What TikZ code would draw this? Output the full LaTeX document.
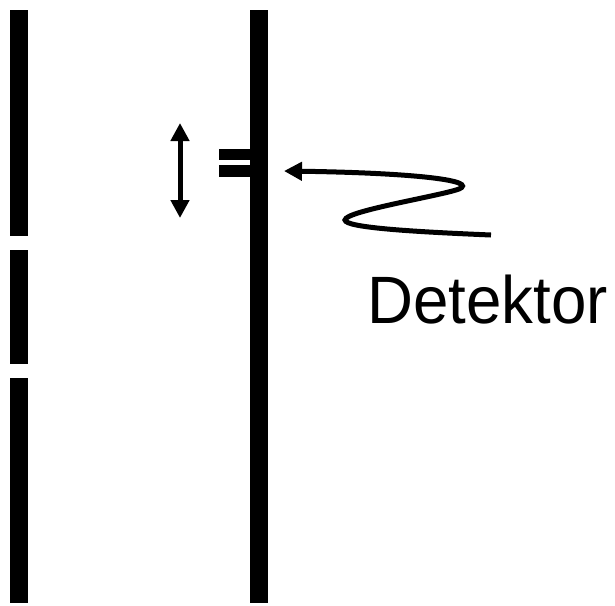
\documentclass[tikz,border=0pt]{standalone}
\usepackage{fontspec}
\setmainfont{Liberation Sans}
\usetikzlibrary{arrows.meta}
\begin{document}
\begin{tikzpicture}[x=1pt,y=-1pt,
  wall/.style={fill=black,draw=none},
  thick arrow/.style={line width=5pt},
  tip/.style={Triangle[length=18pt,width=18pt]}]
\useasboundingbox (0,0) rectangle (615,605);
% left wall with two slits
\fill[wall] (10,10) rectangle (28,236);
\fill[wall] (10,250) rectangle (28,364);
\fill[wall] (10,378) rectangle (28,603);
% screen
\fill[wall] (250,10) rectangle (268,603);
% detector plates
\fill[wall] (219,149) rectangle (251,160);
\fill[wall] (219,165) rectangle (251,177);
% double arrow
\coordinate (up) at (180,123);
\coordinate (down) at (180,218);
\draw[thick arrow,{Triangle[length=18pt,width=18pt]}-{Triangle[length=18pt,width=18pt]}] (up) -- (down);
% wavy arrow
\coordinate (wstart) at (491,235);
\coordinate (wend) at (284,171);
\draw[thick arrow,-{Triangle[length=18pt,width=18pt]}] (wstart) .. controls (420,232) and (345,228) .. (345,220) .. controls (345,211) and (440,196) .. (459,189) .. controls (478,181) and (420,173) .. (wend);
% label
\node[anchor=base west,inner sep=0pt,font=\fontsize{67}{70}\selectfont,xscale=0.95] (det) at (367,323) {Detektor};
\end{tikzpicture}
\end{document}
